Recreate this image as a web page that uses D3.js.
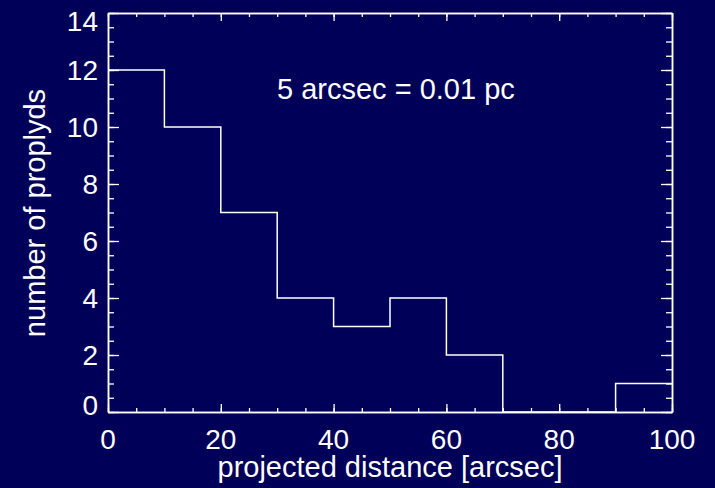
<!DOCTYPE html>
<html>
<head>
<meta charset="utf-8">
<script src="https://cdn.jsdelivr.net/npm/d3@7"></script>
<style>
  body { margin: 0; background: #000058; }
  svg { display: block; }
  text { font-family: "Liberation Sans", Arial, sans-serif; fill: #fff; }
</style>
</head>
<body>
<svg id="chart" width="715" height="488"></svg>
<script>
// histogram bins (left edges) and counts
var binEdges = [0, 10, 20, 30, 40, 50, 60, 70, 80, 90];
var binCounts = [12, 10, 7, 4, 3, 4, 2, 0, 0, 1];
var xMajor = [0, 20, 40, 60, 80, 100];
var yMajor = [0, 2, 4, 6, 8, 10, 12, 14];
var note = '5 arcsec = 0.01 pc';

var svg = d3.select('#chart');
var pLeft = 108, pRight = 672, pTop = 13, pBottom = 412;

var x = d3.scaleLinear().domain([0, 100]).range([pLeft, pRight]);
var y = d3.scaleLinear().domain([0, 14]).range([pBottom, pTop]);

svg.append('rect').attr('width', 715).attr('height', 488).attr('fill', '#000058');

// minor ticks every 5 (x) and 0.5 (y)
var xMinor = d3.range(0, 100.01, 5);
var yMinor = d3.range(0, 14.01, 0.5);

function styleAxis(g) {
    g.selectAll('path').attr('stroke', '#fff').attr('stroke-width', 1.5);
    g.selectAll('line').attr('stroke', '#fff').attr('stroke-width', 1.3);
    g.selectAll('text').remove();
}

svg.append('g').attr('transform', 'translate(0,' + pBottom + ')')
    .call(d3.axisBottom(x).tickValues(xMinor).tickSize(-4).tickSizeOuter(0)).call(styleAxis);
svg.append('g').attr('transform', 'translate(0,' + pBottom + ')')
    .call(d3.axisBottom(x).tickValues(xMajor).tickSize(-8).tickSizeOuter(0)).call(styleAxis);
svg.append('g').attr('transform', 'translate(0,' + pTop + ')')
    .call(d3.axisTop(x).tickValues(xMinor).tickSize(-4).tickSizeOuter(0)).call(styleAxis);
svg.append('g').attr('transform', 'translate(0,' + pTop + ')')
    .call(d3.axisTop(x).tickValues(xMajor).tickSize(-8).tickSizeOuter(0)).call(styleAxis);
svg.append('g').attr('transform', 'translate(' + pLeft + ',0)')
    .call(d3.axisLeft(y).tickValues(yMinor).tickSize(-6).tickSizeOuter(0)).call(styleAxis);
svg.append('g').attr('transform', 'translate(' + pLeft + ',0)')
    .call(d3.axisLeft(y).tickValues(yMajor).tickSize(-11).tickSizeOuter(0)).call(styleAxis);
svg.append('g').attr('transform', 'translate(' + pRight + ',0)')
    .call(d3.axisRight(y).tickValues(yMinor).tickSize(-6).tickSizeOuter(0)).call(styleAxis);
svg.append('g').attr('transform', 'translate(' + pRight + ',0)')
    .call(d3.axisRight(y).tickValues(yMajor).tickSize(-11).tickSizeOuter(0)).call(styleAxis);

// tick labels
svg.selectAll('.xlab').data(xMajor).enter().append('text')
    .attr('x', function (d) { return x(d); })
    .attr('y', 449)
    .attr('text-anchor', 'middle')
    .attr('font-size', 28)
    .text(function (d) { return d; });

// end labels are kept inside the box, like IDL does
svg.selectAll('.ylab').data(yMajor).enter().append('text')
    .attr('x', 98)
    .attr('y', function (d) {
        var c = Math.max(pTop + 8, Math.min(pBottom - 7, y(d)));
        return c + 10;
    })
    .attr('text-anchor', 'end')
    .attr('font-size', 28)
    .text(function (d) { return d; });

// histogram outline
var pts = binEdges.map(function (e, i) { return [e, binCounts[i]]; });
pts.push([100, binCounts[binCounts.length - 1]]);
var line = d3.line()
    .x(function (d) { return x(d[0]); })
    .y(function (d) { return y(d[1]); })
    .curve(d3.curveStepAfter);
svg.append('path').attr('d', line(pts))
    .attr('fill', 'none').attr('stroke', '#fff').attr('stroke-width', 1.5);

// titles
svg.append('text').attr('x', 390).attr('y', 477)
    .attr('text-anchor', 'middle').attr('font-size', 29)
    .text('projected distance [arcsec]');
svg.append('text').attr('transform', 'translate(45,213) rotate(-90)')
    .attr('text-anchor', 'middle').attr('font-size', 29)
    .text('number of proplyds');
svg.append('text').attr('x', 277).attr('y', 99)
    .attr('font-size', 29)
    .text(note);
</script>
</body>
</html>
